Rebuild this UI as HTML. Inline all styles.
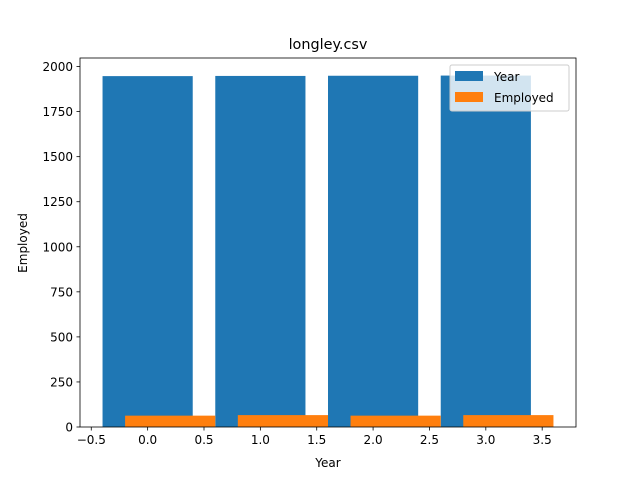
<!DOCTYPE html>
<html><head><meta charset="utf-8"><style>
body{margin:0;background:#fff;font-family:"Liberation Sans","DejaVu Sans",sans-serif}
text{font-family:"DejaVu Sans","Liberation Sans",sans-serif;font-size:12px;fill:#000}
</style></head><body>
<svg id="chart" width="640" height="480" xmlns="http://www.w3.org/2000/svg">
<rect width="640" height="480" fill="#fff"/>
<text x="328" y="49" text-anchor="middle" style="font-size:14.4px">longley.csv</text>
<g id="bars"></g>
<g id="axes"></g>
<text x="328" y="467" text-anchor="middle">Year</text>
<text transform="translate(27,243) rotate(-90)" text-anchor="middle">Employed</text>
<g>
<rect x="450" y="65" width="119" height="46" rx="2" fill="#fff" fill-opacity="0.8" stroke="#ccc"/>
<rect x="455" y="71" width="28" height="10" fill="#1f77b4"/>
<text x="494" y="81">Year</text>
<rect x="455" y="92" width="28" height="10" fill="#ff7f0e"/>
<text x="494" y="102">Employed</text>
</g>
</svg>
<script>
const categories=[0,1,2,3];
const yearValues=[1947,1948,1949,1950];
const employedValues=[63,66,63,66];
const xTicks=[-0.5,0,0.5,1,1.5,2,2.5,3,3.5];
const yTicks=[0,250,500,750,1000,1250,1500,1750,2000];
const L=80,R=576,T=58,B=427,x0=-0.6,x1=3.8,y0=0,y1=2047.5;
const X=v=>L+(v-x0)/(x1-x0)*(R-L);
const Y=v=>B-(v-y0)/(y1-y0)*(B-T);
const NS="http://www.w3.org/2000/svg";
const bars=document.getElementById('bars'),axes=document.getElementById('axes');
function mk(tag,attrs,parent){const e=document.createElementNS(NS,tag);for(const k in attrs)e.setAttribute(k,attrs[k]);parent.appendChild(e);return e;}
categories.forEach((c,i)=>{
 let r=mk('rect',{x:X(c-0.4),y:Y(yearValues[i]),width:X(c+0.4)-X(c-0.4),height:Y(0)-Y(yearValues[i]),fill:'#1f77b4'},bars);
 
 
});
categories.forEach((c,i)=>{
 let r=mk('rect',{x:X(c-0.2),y:Y(employedValues[i]),width:X(c+0.6)-X(c-0.2),height:Y(0)-Y(employedValues[i]),fill:'#ff7f0e'},bars);
 
 
});
let f=mk('rect',{x:L,y:T,width:R-L,height:B-T,fill:'none',stroke:'#000','stroke-width':0.8},axes);


xTicks.forEach(t=>{
 mk('line',{x1:X(t),x2:X(t),y1:B,y2:B+3.5,stroke:'#000','stroke-width':0.8},axes);
 let s=mk('text',{x:X(t),y:B+17,'text-anchor':'middle'},axes);s.textContent=t.toFixed(1).replace('-','\u2212');
 
 
});
yTicks.forEach(t=>{
 mk('line',{x1:L-3.5,x2:L,y1:Y(t),y2:Y(t),stroke:'#000','stroke-width':0.8},axes);
 let s=mk('text',{x:L-7,y:Y(t)+4.5,'text-anchor':'end'},axes);s.textContent=t;
 
 
});
</script>
</body></html>
